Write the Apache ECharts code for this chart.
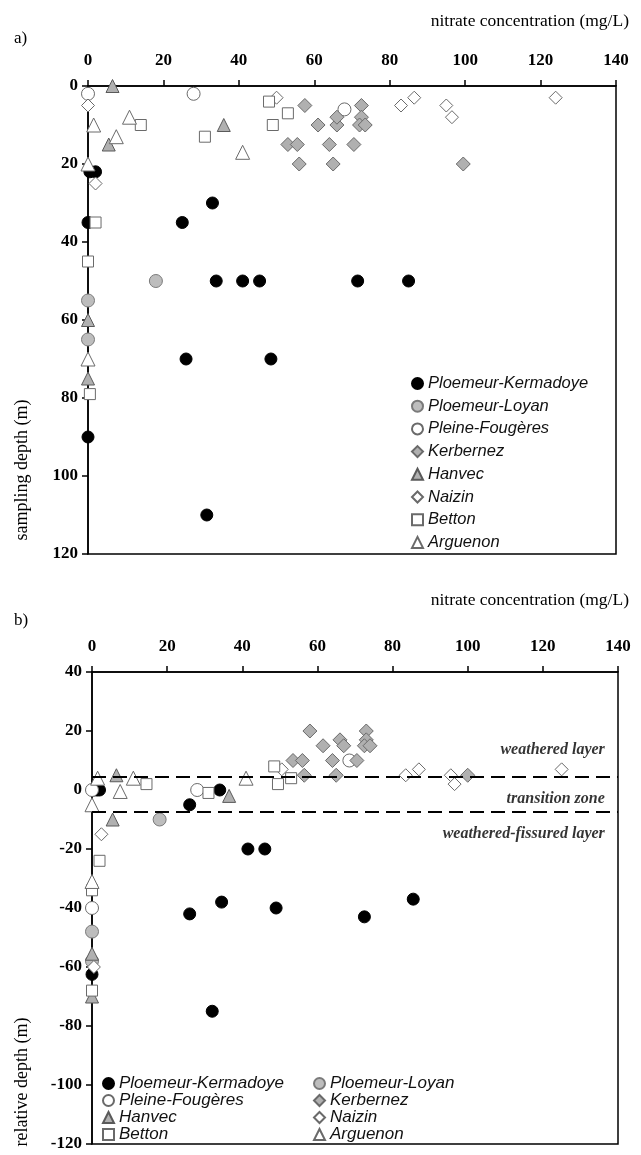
<!DOCTYPE html>
<html>
<head>
<meta charset="utf-8">
<script src="https://cdn.jsdelivr.net/npm/echarts@6/dist/echarts.min.js"></script>
<style>html,body{margin:0;padding:0;background:#fff}#c{width:641px;height:1155px}</style>
</head>
<body>
<div id="c"></div>
<script>
// ---- tick values ----
const xTicks = [0, 20, 40, 60, 80, 100, 120, 140];
const yTicksA = [0, 20, 40, 60, 80, 100, 120];
const yTicksB = [40, 20, 0, -20, -40, -60, -80, -100, -120];
const siteNames = ['Ploemeur-Kermadoye','Ploemeur-Loyan','Pleine-Fougères','Kerbernez','Hanvec','Naizin','Betton','Arguenon'];

// ---- panel a: [nitrate mg/L, sampling depth m] ----
const kermadoyeA = [[0.5,22],[2,22],[0,35],[25,35],[33,30],[34,50],[41,50],[45.5,50],[71.5,50],[85,50],[26,70],[48.5,70],[0,90],[31.5,110]];
const loyanA = [[18,50],[0,55],[0,65]];
const pleineA = [[0,2],[28,2],[68,6]];
const kerbernezA = [[57.5,5],[61,10],[53,15],[55.5,15],[56,20],[64,15],[65,20],[66,10],[66,8],[70.5,15],[72.5,5],[72.5,8],[72,10],[73.5,10],[99.5,20]];
const hanvecA = [[6.5,0],[36,10],[5.5,15],[0,60],[0,75]];
const naizinA = [[0,5],[50,3],[83,5],[86.5,3],[95,5],[96.5,8],[124,3],[2,25]];
const bettonA = [[14,10],[31,13],[48,4],[49,10],[53,7],[2,35],[0,45],[0.5,79]];
const arguenonA = [[1.5,10],[11,8],[7.5,13],[41,17],[0,20],[0,70]];

// ---- panel b: [nitrate mg/L, relative depth m] ----
const kermadoyeB = [[0.5,0],[1.3,0],[2,0],[34,0],[26,-5],[41.5,-20],[46,-20],[34.5,-38],[26,-42],[49,-40],[72.5,-43],[85.5,-37],[32,-75],[0,-62.5]];
const loyanB = [[18,-10],[0,-48],[0,-58]];
const pleineB = [[0,0],[28,0],[68.5,10],[0,-40]];
const kerbernezB = [[53.5,10],[56,10],[56.5,5],[58,20],[61.5,15],[64,10],[65,5],[66,17],[67,15],[70.5,10],[73,20],[73,17],[72.5,15],[74,15],[100,5]];
const hanvecB = [[6.5,5],[36.5,-2],[5.5,-10],[0,-55.5],[0,-70]];
const naizinB = [[2.5,-15],[50.5,7],[83.5,5],[87,7],[95.5,5],[96.5,2],[125,7],[0.5,-60]];
const bettonB = [[14.5,2],[31,-1],[48.5,8],[49.5,2],[53,4],[2,-24],[0,-34],[0,-68]];
const arguenonB = [[1.5,4],[7.5,-0.5],[11,4],[41,4],[0,-5],[0,-31]];

// ---- zone boundaries and labels (panel b) ----
const boundaries = [4.5, -7.5];
const zoneLabels = [[136.5,13.6,'weathered layer'],[136.5,-3,'transition zone'],[136.5,-14.8,'weathered-fissured layer']];

const dataA = [kermadoyeA, loyanA, pleineA, kerbernezA, hanvecA, naizinA, bettonA, arguenonA];
const dataB = [kermadoyeB, loyanB, pleineB, kerbernezB, hanvecB, naizinB, bettonB, arguenonB];

const styles = [
  {symbol:'circle', size:12, fill:'#000000', border:'#000000'},
  {symbol:'circle', size:13, fill:'#bdbdbd', border:'#7a7a7a'},
  {symbol:'circle', size:13, fill:'#ffffff', border:'#6a6a6a'},
  {symbol:'diamond', size:14, fill:'#b0b0b0', border:'#6a6a6a'},
  {symbol:'triangle', size:13, fill:'#b0b0b0', border:'#5a5a5a'},
  {symbol:'diamond', size:13, fill:'#ffffff', border:'#6a6a6a'},
  {symbol:'rect', size:11, fill:'#ffffff', border:'#6a6a6a'},
  {symbol:'triangle', size:14, fill:'#ffffff', border:'#6a6a6a'}
];

const serif = '"Liberation Serif","DejaVu Serif",serif';
const sans = '"Liberation Sans",Arial,sans-serif';

function xAxis(gi){
  return {
    gridIndex: gi, type:'value', position:'top', min:0, max:140, interval:20,
    axisLine:{show:true, onZero:false, lineStyle:{color:'#000', width:1.5}},
    axisTick:{show:true, inside:false, length:6, lineStyle:{color:'#000', width:1.5}},
    axisLabel:{fontFamily:serif, fontWeight:'bold', fontSize:17, color:'#000', margin:17},
    splitLine:{show:false}
  };
}
function yAxis(gi, min, max, inverse){
  return {
    gridIndex: gi, type:'value', min:min, max:max, interval:20, inverse:inverse,
    axisLine:{show:true, onZero:false, lineStyle:{color:'#000', width:1.5}},
    axisTick:{show:true, inside:false, length:6, lineStyle:{color:'#000', width:1.5}},
    axisLabel:{fontFamily:serif, fontWeight:'bold', fontSize:17, color:'#000', margin:10},
    splitLine:{show:false}
  };
}

const series = [];
siteNames.forEach((n,i)=>{
  const st = styles[i];
  [[dataA[i],0],[dataB[i],1]].forEach(([d,gi])=>{
    series.push({
      name:n, type:'scatter', xAxisIndex:gi, yAxisIndex:gi, data:d,
      symbol:st.symbol, symbolSize:st.size,
      itemStyle:{color:st.fill, borderColor:st.border, borderWidth:1, opacity:1},
      emphasis:{disabled:true}
    });
  });
});
series.push({
  name:'zones', type:'scatter', xAxisIndex:1, yAxisIndex:1, symbolSize:0, silent:true,
  data: zoneLabels,
  label:{show:true, position:'left', distance:0, formatter:p=>p.data[2],
    fontFamily:serif, fontWeight:'bold', fontStyle:'italic', fontSize:16, color:'#000'},
  markLine:{silent:true, symbol:['none','none'], label:{show:false},
    lineStyle:{color:'#000', width:2, type:[14,7]},
    data: boundaries.map(v=>({yAxis:v}))}
});

const legendTextA = {fontFamily:sans, fontStyle:'italic', fontSize:16.5, color:'#111', lineHeight:16};
const legendTextB = {fontFamily:sans, fontStyle:'italic', fontSize:17, color:'#111', lineHeight:15};
const chart = echarts.init(document.getElementById('c'), null, {renderer:'canvas'});
chart.setOption({
  animation:false,
  backgroundColor:'#fff',
  grid:[
    {left:88, top:86, width:528, height:468, show:true, borderColor:'#000', borderWidth:1.5, backgroundColor:'transparent'},
    {left:92, top:672, width:526, height:472, show:true, borderColor:'#000', borderWidth:1.5, backgroundColor:'transparent'}
  ],
  xAxis:[xAxis(0), xAxis(1)],
  yAxis:[yAxis(0,0,120,true), yAxis(1,-120,40,false)],
  legend:[
    {orient:'vertical', left:411, top:375, padding:0, itemWidth:11, itemHeight:11, itemGap:5.7, selectedMode:false,
     data:siteNames, textStyle:legendTextA},
    {orient:'vertical', left:102, top:1075, padding:0, itemWidth:11, itemHeight:11, itemGap:0, selectedMode:false,
     data:['Ploemeur-Kermadoye','Pleine-Fougères','Hanvec','Betton'], textStyle:legendTextB},
    {orient:'vertical', left:313, top:1075, padding:0, itemWidth:11, itemHeight:11, itemGap:0, selectedMode:false,
     data:['Ploemeur-Loyan','Kerbernez','Naizin','Arguenon'], textStyle:legendTextB}
  ],
  graphic:[
    {type:'text', left:14, top:30, style:{text:'a)', font:'17px '+serif, fill:'#000'}},
    {type:'text', left:14, top:612, style:{text:'b)', font:'17px '+serif, fill:'#000'}},
    {type:'text', right:12, top:12, style:{text:'nitrate concentration (mg/L)', font:'17.5px '+serif, fill:'#000'}},
    {type:'text', right:12, top:591, style:{text:'nitrate concentration (mg/L)', font:'17.5px '+serif, fill:'#000'}},
    {type:'text', x:22, y:470, rotation:Math.PI/2, style:{text:'sampling depth (m)', font:'18px '+serif, fill:'#000', textAlign:'center', textVerticalAlign:'middle'}},
    {type:'text', x:22, y:1082, rotation:Math.PI/2, style:{text:'relative depth (m)', font:'18px '+serif, fill:'#000', textAlign:'center', textVerticalAlign:'middle'}}
  ],
  series: series
});
</script>
</body>
</html>
